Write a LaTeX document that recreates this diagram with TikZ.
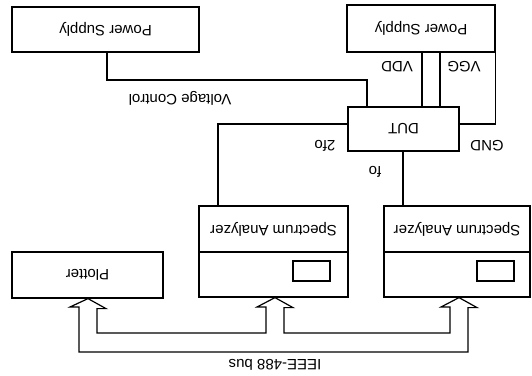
\documentclass[tikz,border=0pt]{standalone}
\usepackage{fontspec}
\setmainfont{Liberation Sans}
\usetikzlibrary{calc}
\begin{document}
\begin{tikzpicture}[x=1pt,y=-1pt,
  line width=1.2pt, line join=miter,
  box/.style={draw, rectangle, inner sep=0pt, minimum width=#1},
  lbl/.style={inner sep=0pt, font=\fontsize{15}{18}\selectfont},
]
\useasboundingbox (0,0) rectangle (532,375);
\newcommand{\ud}[1]{\rotatebox{180}{#1}}
% boxes
\node[box=187, minimum height=45] (psL) at (105.5,29.5) {};
\node[box=148, minimum height=47] (psR) at (421,28.5) {};
\node[box=111, minimum height=44] (dut) at (403.5,129) {};
\node[box=149, minimum height=46] (saLtop) at (273.5,229) {};
\node[box=149, minimum height=45] (saLbot) at (273.5,274.5) {};
\node[box=146, minimum height=46] (saRtop) at (457,229) {};
\node[box=146, minimum height=45] (saRbot) at (457,274.5) {};
\node[box=37, minimum height=20] (saLscr) at (311.5,271) {};
\node[box=37, minimum height=20] (saRscr) at (495.5,271) {};
\node[box=151, minimum height=46] (plot) at (87.5,275) {};
% box texts
\node[lbl] (tpsL) at (psL) {\ud{Power Supply}};
\node[lbl] (tpsR) at (psR) {\ud{Power Supply}};
\node[lbl] (tdut) at (dut) {\ud{DUT}};
\node[lbl] (tsaL) at (saLtop) {\ud{Spectrum Analyzer}};
\node[lbl] (tsaR) at (saRtop) {\ud{Spectrum Analyzer}};
\node[lbl] (tplot) at (plot) {\ud{Plotter}};
% connectors
\draw ([xshift=1.5pt]psL.south) |- (367,80) -- (dut.north -| 367,0);
\draw (psR.south -| 422,0) -- (dut.north -| 422,0);
\draw (psR.south -| 440,0) -- (dut.north -| 440,0);
\draw (psR.south east) |- (dut.east |- 0,124);
\draw (dut.west |- 0,124) -| (saLtop.north -| 218,0);
\draw (dut.south -| 403,0) -- (saRtop.north -| 403,0);
% labels
\node[lbl] (vc) at (180,98) {\ud{Voltage Control}};
\node[lbl] (vdd) at (397,67) {\ud{VDD}};
\node[lbl] (vgg) at (464,67) {\ud{VGG}};
\node[lbl] (gnd) at (487,146) {\ud{GND}};
\node[lbl] (f2) at (325,146) {\ud{2fo}};
\node[lbl] (f1) at (375,172) {\ud{fo}};
\node[lbl] (bus) at (275,365) {\ud{IEEE-488 bus}};
% bus outline
\coordinate (tA) at (plot.south -| 88,0);
\coordinate (tB) at (saLbot.south -| 275,0);
\coordinate (tC) at (saRbot.south -| 459,0);
\draw (tA) -- ++(18,10) -- ++(-9,0) |- (266,333) -- (266,307) -- ++(-9,0) -- (tB)
  -- ++(18,10) -- ++(-9,0) |- (450,333) -- (450,307) -- ++(-9,0) -- (tC)
  -- ++(18,10) -- ++(-9,0) |- (79,352) -- (79,307) -- ++(-9,0) -- cycle;
\end{tikzpicture}
\end{document}
